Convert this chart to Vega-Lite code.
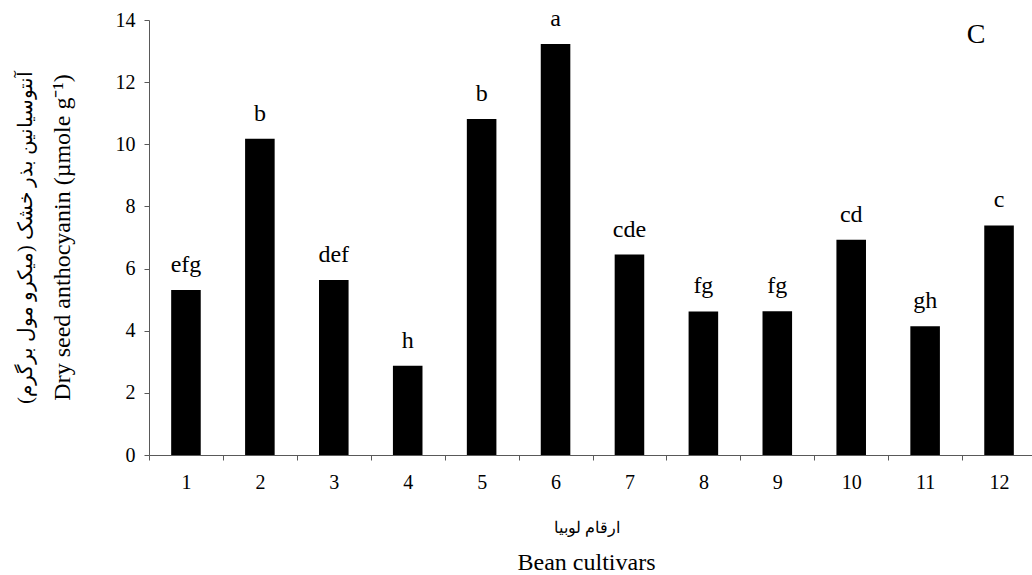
{
  "$schema": "https://vega.github.io/schema/vega-lite/v6.json",
  "width": 887,
  "height": 435,
  "autosize": {"type": "none"},
  "padding": {"left": 149, "top": 20, "right": 0, "bottom": 120},
  "background": "white",
  "config": {"view": {"stroke": null}, "font": "Liberation Serif"},
  "data": {
    "values": [
      {"cultivar": "1", "value": 5.31, "letter": "efg"},
      {"cultivar": "2", "value": 10.18, "letter": "b"},
      {"cultivar": "3", "value": 5.63, "letter": "def"},
      {"cultivar": "4", "value": 2.87, "letter": "h"},
      {"cultivar": "5", "value": 10.81, "letter": "b"},
      {"cultivar": "6", "value": 13.23, "letter": "a"},
      {"cultivar": "7", "value": 6.45, "letter": "cde"},
      {"cultivar": "8", "value": 4.62, "letter": "fg"},
      {"cultivar": "9", "value": 4.63, "letter": "fg"},
      {"cultivar": "10", "value": 6.93, "letter": "cd"},
      {"cultivar": "11", "value": 4.14, "letter": "gh"},
      {"cultivar": "12", "value": 7.39, "letter": "c"}
    ]
  },
  "resolve": {"axis": {"x": "independent", "y": "independent"}},
  "layer": [
    {
      "mark": {"type": "bar", "color": "black", "width": {"band": 0.4}},
      "encoding": {
        "x": {
          "field": "cultivar",
          "type": "ordinal",
          "sort": null,
          "scale": {"paddingInner": 0, "paddingOuter": 0},
          "axis": {
            "tickBand": "extent",
            "labelAngle": 0,
            "labelFont": "Liberation Serif",
            "labelFontSize": 20,
            "labelColor": "black",
            "labelPadding": 12,
            "tickSize": 5,
            "tickColor": "#595959",
            "domainColor": "#595959",
            "title": "Bean cultivars",
            "titleFont": "Liberation Serif",
            "titleFontSize": 24,
            "titleFontWeight": "normal",
            "titleColor": "black",
            "titleX": 437,
            "titleY": 95,
            "titleBaseline": "top"
          }
        },
        "y": {
          "field": "value",
          "type": "quantitative",
          "scale": {"domain": [0, 14], "nice": false},
          "axis": {
            "values": [0, 2, 4, 6, 8, 10, 12, 14],
            "grid": false,
            "labelFont": "Liberation Serif",
            "labelFontSize": 20,
            "labelColor": "black",
            "labelPadding": 9,
            "tickSize": 5,
            "tickColor": "#595959",
            "domainColor": "#595959",
            "title": "Dry seed anthocyanin (µmole g⁻¹)",
            "titleFont": "Liberation Serif",
            "titleFontSize": 24,
            "titleFontWeight": "normal",
            "titleColor": "black",
            "titleX": -75,
            "titleY": 217
          }
        }
      }
    },
    {
      "mark": {"type": "text", "baseline": "alphabetic", "dy": -18, "font": "Liberation Serif", "fontSize": 24, "color": "black"},
      "encoding": {
        "x": {
          "field": "cultivar",
          "type": "ordinal",
          "sort": null,
          "axis": {
            "orient": "bottom",
            "labels": false,
            "ticks": false,
            "domain": false,
            "title": "ارقام لوبیا",
            "titleFontSize": 16,
            "titleFontWeight": "normal",
            "titleColor": "black",
            "titleX": 437,
            "titleY": 64,
            "titleBaseline": "top"
          }
        },
        "y": {
          "field": "value",
          "type": "quantitative",
          "axis": {
            "orient": "left",
            "labels": false,
            "ticks": false,
            "domain": false,
            "grid": false,
            "title": "آنتوسیانین بذر خشک (میکرو مول برگرم)",
            "titleFontSize": 20,
            "titleFontWeight": "normal",
            "titleColor": "black",
            "titleX": -114,
            "titleY": 217
          }
        },
        "text": {"field": "letter"}
      }
    },
    {
      "data": {"values": [{}]},
      "mark": {"type": "text", "baseline": "alphabetic", "dx": -23, "font": "Liberation Serif", "fontSize": 28, "color": "black"},
      "encoding": {
        "x": {"datum": "12", "axis": null},
        "y": {"datum": 13.25, "axis": null},
        "text": {"value": "C"}
      }
    }
  ]
}
